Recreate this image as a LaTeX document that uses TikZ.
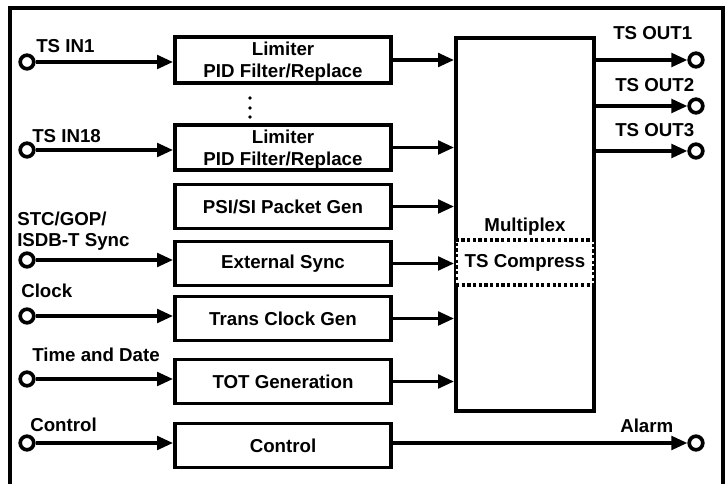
\documentclass[tikz,border=0pt]{standalone}
\usepackage{fontspec}
\setmainfont{Liberation Sans}
\usetikzlibrary{arrows.meta}
\tikzset{>={Triangle[length=0.4cm,width=0.34cm]}}
\tikzset{
  blk/.style={draw,line width=2.8pt,minimum width=5.4cm,minimum height=1.1cm,
    align=center,inner sep=0pt},
  port/.style={draw,circle,fill=white,line width=2.6pt,minimum size=0.34cm,inner sep=0pt},
  sig/.style={->,line width=2.4pt},
  lbl/.style={anchor=base west,inner sep=0pt,align=left},
  compress/.style={draw,line width=2.2pt,dash pattern=on 0.08cm off 0.062cm,
    preaction={draw=white,line width=3.2pt},fill=white,
    minimum width=3.45cm,minimum height=1.125cm,inner sep=0pt}
}

\begin{document}
\begin{tikzpicture}[x=0.025cm,y=-0.025cm,font=\fontsize{13.3}{15.6}\selectfont\bfseries]
	\useasboundingbox (0,0) rectangle (726,484);
	\draw[line width=2.4pt] (10,8) rectangle (723,492);
	% blocks
	\node[blk,minimum height=1.14cm,text depth=0pt] (lim1) at (283,60) {Limiter\\PID Filter/Replace};
	\node[blk,minimum height=1.14cm,text depth=0pt] (lim18) at (283,147.5) {Limiter\\PID Filter/Replace};
	\node[blk] (psi) at (283,206.5) {PSI/SI Packet Gen};
	\node[blk] (ext) at (283,263.5) {External Sync};
	\node[blk] (trans) at (283,318.5) {Trans Clock Gen};
	\node[blk] (tot) at (283,381.5) {TOT Generation};
	\node[blk] (ctrl) at (283,445.5) {Control};
	\node[blk,minimum width=3.45cm,minimum height=9.325cm,text depth=0pt] (mux) at (525,224.5) {Multiplex};
	\node[compress] (tsc) at (525,262.5) {TS Compress};
	\foreach \y in {98,108,117}
		\fill (250,\y) circle (1.8);
	% ports
	\node[port] (in1) at (27,62) {};
	\node[port] (in18) at (27,150) {};
	\node[port] (insync) at (27,260) {};
	\node[port] (inclk) at (27,316) {};
	\node[port] (intime) at (27,379) {};
	\node[port] (inctrl) at (27,443) {};
	\node[port] (out1) at (696,60) {};
	\node[port] (out2) at (696,106) {};
	\node[port] (out3) at (696,151) {};
	\node[port] (alarm) at (696,443) {};
	% labels
	\node[lbl] (l1) at (36,53) {TS IN1};
	\node[lbl] (l18) at (32,143) {TS IN18};
	\node[lbl] (lsync) at (17,247) {STC/GOP/\\ISDB-T Sync};
	\node[lbl] (lclk) at (21,298) {Clock};
	\node[lbl] (ltime) at (32,362) {Time and Date};
	\node[lbl] (lctrl) at (30,432) {Control};
	\node[lbl] (lo1) at (613,40) {TS OUT1};
	\node[lbl] (lo2) at (615,92) {TS OUT2};
	\node[lbl] (lo3) at (615,137) {TS OUT3};
	\node[lbl] (lalarm) at (620,433) {Alarm};
	% connectors
	\draw[sig] (in1) -- (in1 -| lim1.west);
	\draw[sig] (in18) -- (in18 -| lim18.west);
	\draw[sig] (insync) -- (insync -| ext.west);
	\draw[sig] (inclk) -- (inclk -| trans.west);
	\draw[sig] (intime) -- (intime -| tot.west);
	\draw[sig] (inctrl) -- (inctrl -| ctrl.west);
	\foreach \b in {lim1,lim18,psi,ext,trans,tot}
		\draw[sig] (\b.east) -- (\b.east -| mux.west);
	\draw[sig] (mux.east |- out1) -- (out1);
	\draw[sig] (mux.east |- out2) -- (out2);
	\draw[sig] (mux.east |- out3) -- (out3);
	\draw[sig] (ctrl.east |- alarm) -- (alarm);
\end{tikzpicture}
\end{document}
